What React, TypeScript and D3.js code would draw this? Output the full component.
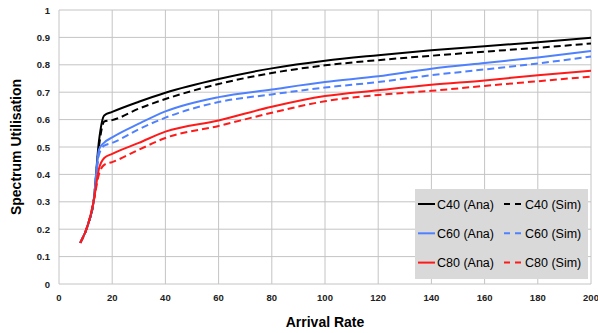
import { useEffect, useRef } from 'react';
import * as d3 from 'd3';

const W = 598;
const H = 333;

const ARRIVAL = [8, 11, 13, 15, 17, 20, 30, 40, 60, 80, 100, 120, 140, 160, 180, 200];
const C40_ANA = [0.15, 0.22, 0.3, 0.52, 0.615, 0.628, 0.665, 0.698, 0.748, 0.787, 0.815, 0.835, 0.853, 0.868, 0.882, 0.899];
const C40_SIM = [0.15, 0.22, 0.3, 0.5, 0.593, 0.598, 0.64, 0.675, 0.73, 0.77, 0.798, 0.817, 0.833, 0.848, 0.862, 0.878];
const C60_ANA = [0.15, 0.22, 0.3, 0.49, 0.516, 0.535, 0.585, 0.63, 0.682, 0.71, 0.737, 0.758, 0.786, 0.807, 0.827, 0.85];
const C60_SIM = [0.15, 0.22, 0.3, 0.47, 0.505, 0.515, 0.565, 0.607, 0.664, 0.692, 0.717, 0.737, 0.762, 0.783, 0.805, 0.83];
const C80_ANA = [0.15, 0.22, 0.3, 0.42, 0.46, 0.475, 0.515, 0.556, 0.597, 0.647, 0.686, 0.707, 0.727, 0.743, 0.762, 0.778];
const C80_SIM = [0.15, 0.22, 0.3, 0.4, 0.435, 0.445, 0.49, 0.533, 0.577, 0.625, 0.667, 0.69, 0.705, 0.723, 0.74, 0.757];

const X_TICKS = [0, 20, 40, 60, 80, 100, 120, 140, 160, 180, 200];
const Y_TICKS = [0, 0.1, 0.2, 0.3, 0.4, 0.5, 0.6, 0.7, 0.8, 0.9, 1];

const SERIES = [
  { label: 'C40 (Ana)', values: C40_ANA, color: '#000000', dashed: false },
  { label: 'C40 (Sim)', values: C40_SIM, color: '#000000', dashed: true },
  { label: 'C60 (Ana)', values: C60_ANA, color: '#4f81ff', dashed: false },
  { label: 'C60 (Sim)', values: C60_SIM, color: '#4f81ff', dashed: true },
  { label: 'C80 (Ana)', values: C80_ANA, color: '#ff1a1a', dashed: false },
  { label: 'C80 (Sim)', values: C80_SIM, color: '#ff1a1a', dashed: true },
];

export default function App() {
  const svgRef = useRef<SVGSVGElement>(null);

  useEffect(() => {
    const svg = d3.select(svgRef.current);
    svg.selectAll('*').remove();

    const x = d3.scaleLinear().domain([0, 200]).range([59, 591]);
    const y = d3.scaleLinear().domain([0, 1]).range([284, 10]);
    const font = "'Liberation Sans', Arial, sans-serif";

    // Grid
    svg.append('g').selectAll('line').data(X_TICKS).join('line')
      .attr('x1', (d) => x(d)).attr('x2', (d) => x(d))
      .attr('y1', y(0)).attr('y2', y(1))
      .attr('stroke', '#c4c4c4').attr('stroke-width', 1);
    svg.append('g').selectAll('line').data(Y_TICKS).join('line')
      .attr('x1', x(0)).attr('x2', x(200))
      .attr('y1', (d) => y(d)).attr('y2', (d) => y(d))
      .attr('stroke', '#c4c4c4').attr('stroke-width', 1);

    // Tick labels
    svg.append('g').selectAll('text').data(Y_TICKS).join('text')
      .attr('x', 50).attr('y', (d) => y(d) + 3.5)
      .attr('text-anchor', 'end').attr('font-family', font)
      .attr('font-size', 9.5).attr('font-weight', 700).attr('fill', '#222')
      .text((d) => d3.format('~g')(d));
    svg.append('g').selectAll('text').data(X_TICKS).join('text')
      .attr('x', (d) => x(d)).attr('y', 301)
      .attr('text-anchor', 'middle').attr('font-family', font)
      .attr('font-size', 9.5).attr('font-weight', 700).attr('fill', '#222')
      .text((d) => String(d));

    // Axis titles
    svg.append('text')
      .attr('transform', `translate(21,${(y(0) + y(1)) / 2}) rotate(-90)`)
      .attr('text-anchor', 'middle').attr('font-family', font)
      .attr('font-size', 14).attr('font-weight', 700).attr('fill', '#000')
      .text('Spectrum Utilisation');
    svg.append('text')
      .attr('x', 325).attr('y', 327)
      .attr('text-anchor', 'middle').attr('font-family', font)
      .attr('font-size', 14).attr('font-weight', 700).attr('fill', '#000')
      .text('Arrival Rate');

    // Lines
    const line = d3.line<number>()
      .x((_, i) => x(ARRIVAL[i])).y((d) => y(d))
      .curve(d3.curveMonotoneX);
    svg.append('g').selectAll('path').data(SERIES).join('path')
      .attr('fill', 'none').attr('stroke', (d) => d.color).attr('stroke-width', 2)
      .attr('stroke-dasharray', (d) => (d.dashed ? '7 4' : null))
      .attr('d', (d) => line(d.values) ?? '');

    // Legend
    const lg = svg.append('g');
    lg.append('rect').attr('x', 415).attr('y', 189).attr('width', 173).attr('height', 90)
      .attr('fill', '#d9d9d9');
    const items = lg.selectAll('g').data(SERIES).join('g')
      .attr('transform', (_, i) => `translate(${i % 2 === 0 ? 418 : 504},${204 + Math.floor(i / 2) * 29.3})`);
    items.append('line').attr('x1', 0).attr('x2', (d) => (d.dashed ? 19 : 17))
      .attr('y1', 0).attr('y2', 0)
      .attr('stroke', (d) => d.color).attr('stroke-width', 2)
      .attr('stroke-dasharray', (d) => (d.dashed ? '6 5' : null));
    items.append('text').attr('x', (d) => (d.dashed ? 21 : 19)).attr('y', 4.5)
      .attr('font-family', font).attr('font-size', 12.5).attr('fill', '#000')
      .text((d) => d.label);
  }, []);

  return (
    <svg ref={svgRef} width={W} height={H}
      style={{ position: 'absolute', left: 0, top: 0, background: '#fff' }} />
  );
}
